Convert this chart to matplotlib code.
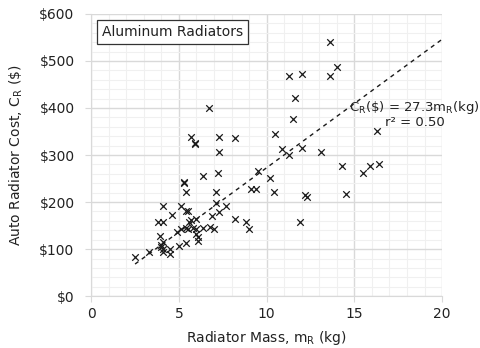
import numpy as np
import matplotlib.pyplot as plt
from matplotlib.ticker import MultipleLocator, FuncFormatter

# ======================================
# DATOS
# ======================================

mass = np.array([13.6, 14.0, 12.0, 11.3, 13.6,
                 6.7, 11.6, 11.5,
                 5.7, 5.9, 5.9, 7.3, 8.2,
                 10.5, 16.3,
                 10.9, 11.3, 12.0, 13.1, 7.3,
                 14.3, 15.5, 15.9, 16.4,
                 6.4, 7.2, 5.3, 5.3, 9.5, 10.2,
                 5.4, 7.1, 9.1, 9.4, 10.4, 12.2, 12.3, 14.5,
                 4.1, 5.1, 5.4, 5.5, 4.6,
                 3.8, 4.1, 5.6, 6.0, 5.7,
                 7.1, 7.7, 7.3, 6.9,
                 8.2, 8.8, 9.0,
                 5.1, 5.4, 5.5, 5.8, 6.0, 6.4, 6.8, 7.0,
                 4.9, 6.0, 6.1, 6.1, 3.9,
                 4.1, 4.0, 4.1, 4.1, 4.0,
                 4.5, 4.5, 5.0, 5.4, 3.3, 2.5, 11.9])

cost = np.array([540, 487, 472, 467, 467,
                 401, 421, 377,
                 338, 325, 323, 338, 337,
                 345, 352,
                 312, 301, 316, 307, 307,
                 277, 262, 277, 281,
                 256, 262, 242, 240, 267, 252,
                 222, 222, 227, 227, 222, 216, 211, 217,
                 191, 191, 181, 180, 172,
                 158, 158, 158, 164, 162,
                 199, 191, 178, 171,
                 163, 158, 143,
                 143, 145, 143, 145, 143, 145, 146, 143,
                 137, 132, 125, 118, 128,
                 116, 108, 101, 94, 104,
                 101, 89, 107, 113, 93, 84, 157])

slope = 27.3          # C_R = 27.3 m_R
r2 = 0.50
fit_range = [2.5, 20]

# ======================================
# GRAFICA
# ======================================

plt.rcParams['font.family'] = 'DejaVu Sans'
plt.rcParams['mathtext.default'] = 'regular'

fig = plt.figure(figsize=(4.8, 3.48), dpi=100)
ax = fig.add_axes([0.19, 0.149, 0.731, 0.811])

ax.set_xlim(0, 20)
ax.set_ylim(0, 600)
ax.xaxis.set_major_locator(MultipleLocator(5))
ax.xaxis.set_minor_locator(MultipleLocator(1))
ax.yaxis.set_major_locator(MultipleLocator(100))
ax.yaxis.set_minor_locator(MultipleLocator(20))
ax.yaxis.set_major_formatter(FuncFormatter(lambda v, p: f"${v:.0f}"))

ax.grid(True, which='major', color='#d9d9d9', lw=1)
ax.grid(True, which='minor', color='#f0f0f0', lw=0.8)
ax.set_axisbelow(True)
for s in ['top', 'right']:
    ax.spines[s].set_visible(False)
for s in ['left', 'bottom']:
    ax.spines[s].set_color('#d9d9d9')
ax.tick_params(which='major', length=4, color='#d9d9d9', labelsize=10,
               labelcolor='#222222')
ax.tick_params(axis='y', pad=8)
ax.tick_params(which='minor', length=0)

ax.scatter(mass, cost, marker='x', color='#1a1a1a', s=22, lw=0.9, zorder=3)

xf = np.linspace(fit_range[0], fit_range[1], 50)
ax.plot(xf, slope * xf, color='#1a1a1a', lw=1, ls=(0, (3, 3)), zorder=2)

ax.text(0.922, 0.645,
        f"C$_R$(\\$) = {slope}m$_R$(kg)\nr² = {r2:.2f}",
        transform=ax.transAxes, ha='center', va='center', fontsize=9.5,
        color='#222222', linespacing=1.0, clip_on=False)

ax.text(0.03, 0.935, "Aluminum Radiators", transform=ax.transAxes,
        ha='left', va='center', fontsize=10, color='#222222',
        bbox=dict(boxstyle='square,pad=0.35', fc='white', ec='#333333', lw=0.9))

ax.set_xlabel(r"Radiator Mass, m$_R$ (kg)", fontsize=10, color='#222222',
              labelpad=6)
ax.set_ylabel(r"Auto Radiator Cost, C$_R$ (\$)", fontsize=10, color='#222222',
              labelpad=10)

plt.savefig('out.png', dpi=100)
